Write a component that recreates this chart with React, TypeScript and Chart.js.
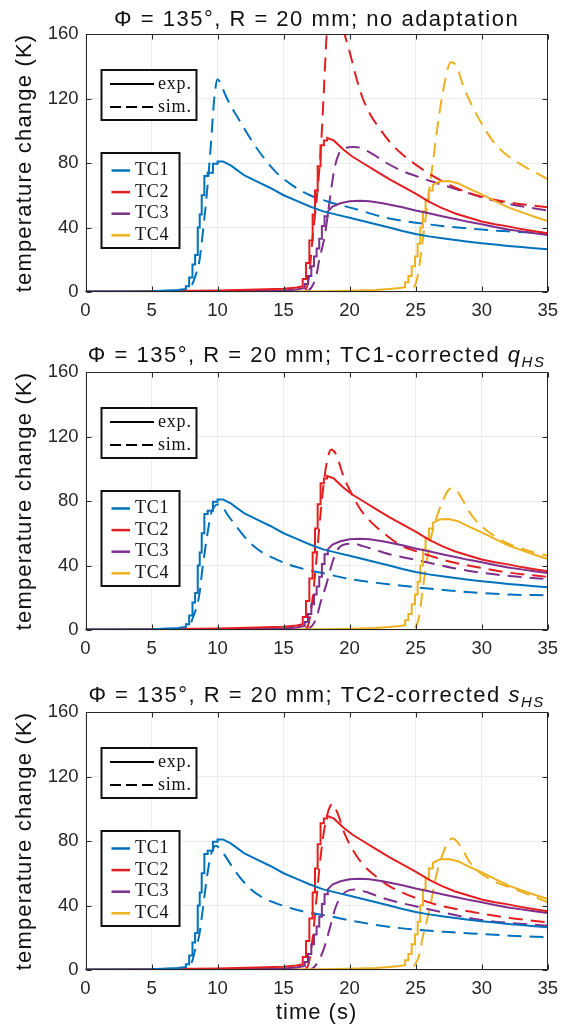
import React, { useEffect, useRef } from "react";
import { Chart, registerables } from "chart.js";

Chart.register(...registerables);

type Pt = [number, number];

// ---------- labels ----------
const X_TICKS = [0, 5, 10, 15, 20, 25, 30, 35];
const Y_TICKS = [0, 40, 80, 120, 160];
const TC_NAMES = ["TC1", "TC2", "TC3", "TC4"];
const STYLE_NAMES = ["exp.", "sim."];
const COLORS = ["#0072BD", "#E41E20", "#7E2F8E", "#EDB120"];
const TITLE_MAIN = "Φ = 135°, R = 20 mm; ";
const TITLE_SUFFIX = ["no adaptation", "TC1-corrected ", "TC2-corrected "];
const TITLE_SYMBOL = ["", "q", "s"];
const TITLE_SUB = ["", "HS", "HS"];
const Y_LABEL = "temperature change (K)";
const X_LABEL = "time (s)";

// ---------- experimental curves (time s, ΔT K) ----------
const EXP_TC1: Pt[] = [
  [0, 0.3], [5, 0.5], [7, 1.2], [7.6, 1.8], [7.6, 3.5], [7.85, 3.5], [7.85, 9], [8.1, 9], [8.1, 17],
  [8.3, 17], [8.3, 23], [8.5, 23], [8.5, 40], [8.65, 40], [8.65, 48], [8.8, 48], [8.8, 60], [9.0, 60],
  [9.0, 72], [9.25, 72], [9.25, 74], [9.65, 74], [9.65, 79.5], [10.0, 79.5], [10.0, 81], [10.4, 81],
  [11, 78.5], [12, 72.5], [13, 68.5], [14, 64.5], [15, 60], [16, 56.5], [17, 53], [18, 50], [19, 48],
  [20, 46], [21, 44], [22, 42], [23, 40], [24, 37.8], [25, 36], [26, 34.5], [27, 33.3], [28, 32.2],
  [29, 31.2], [30, 30.3], [31, 29.4], [32, 28.6], [33, 27.9], [34, 27.2], [35, 26.5],
];
const EXP_TC2: Pt[] = [
  [0, 0.3], [5, 0.5], [10, 1], [13, 1.5], [15, 2], [16, 2.8], [16.45, 3.5], [16.45, 8], [16.7, 8],
  [16.7, 18], [16.95, 18], [16.95, 32], [17.2, 32], [17.2, 48], [17.38, 48], [17.38, 63], [17.58, 63],
  [17.58, 78], [17.8, 78], [17.8, 91], [18.05, 91], [18.05, 94], [18.3, 94], [18.3, 95.5], [18.8, 94],
  [19.5, 88.5], [20.2, 84], [21, 80], [22, 75], [23, 70], [24, 65.5], [25, 61], [26, 56], [27, 52],
  [28, 48.7], [29, 46.2], [30, 43.7], [31, 42], [32, 40.7], [33, 39], [34, 37.7], [35, 36.5],
];
const EXP_TC3: Pt[] = [
  [0, 0.2], [10, 0.5], [15, 1], [16, 1.5], [16.6, 2.5], [16.6, 5], [16.85, 5], [16.85, 10], [17.1, 10],
  [17.1, 16], [17.3, 16], [17.3, 22], [17.5, 22], [17.5, 27], [17.7, 27], [17.7, 33], [17.9, 33],
  [17.9, 41], [18.1, 41], [18.1, 47], [18.35, 47], [18.35, 50], [18.7, 53], [19.3, 55], [20, 56.3],
  [20.8, 56.6], [21.5, 56.3], [22.5, 55], [24, 52.5], [25, 50.5], [26, 48.8], [27, 47], [28, 45.3],
  [29, 43.5], [30, 42], [31, 40.3], [32, 38.8], [33, 37.6], [34, 36.4], [35, 35.3],
];
const EXP_TC4: Pt[] = [
  [0, 0.2], [10, 0.3], [18, 0.5], [20, 0.8], [22, 1.2], [23, 1.8], [23.8, 2.5], [24.2, 3], [24.2, 6],
  [24.45, 6], [24.45, 10], [24.7, 10], [24.7, 16], [24.95, 16], [24.95, 22], [25.15, 22], [25.15, 30],
  [25.35, 30], [25.35, 40], [25.55, 40], [25.55, 50], [25.75, 50], [25.75, 57], [26.0, 57], [26.0, 63],
  [26.3, 63], [26.3, 66.5], [26.8, 68.5], [27.5, 68.8], [28.2, 67.5], [29, 64.3], [30, 60.5],
  [31, 56.5], [32, 52.5], [33, 49.5], [34, 46.7], [35, 44],
];

// ---------- simulated curves, panel 1: no adaptation ----------
const SIM1_TC1: Pt[] = [
  [0, 0], [7.5, 0], [7.8, 1], [8.1, 5], [8.4, 12], [8.6, 18], [8.9, 38], [9.2, 62], [9.5, 92],
  [9.75, 120], [10.0, 132], [10.3, 128], [10.6, 122], [11.0, 115.5], [11.5, 108.5], [11.9, 103],
  [12.5, 95], [13.2, 86.5], [14.4, 74.5], [15.7, 66], [17, 60], [18.4, 56], [20.2, 52], [22.8, 46],
  [25, 43], [27.5, 40.5], [30, 38.7], [32, 37.6], [35, 36.5],
];
const SIM1_TC2: Pt[] = [
  [0, 0], [16, 0], [16.6, 1], [16.9, 8], [17.2, 34], [17.58, 64], [17.83, 90], [18.08, 130],
  [18.25, 158], [18.6, 176], [19.0, 172], [19.6, 160], [20.0, 149], [20.5, 133], [21.0, 120],
  [21.5, 111], [22.3, 101], [23.1, 92.5], [23.9, 86], [25, 79], [26.1, 73], [27.8, 65.5], [29, 61.5],
  [30.8, 57.5], [32.1, 55.5], [35, 52.5],
];
const SIM1_TC3: Pt[] = [
  [0, 0], [16.5, 0], [16.9, 1], [17.2, 4], [17.5, 11], [17.7, 20], [18.1, 34], [18.46, 55],
  [18.84, 76], [19.2, 86], [19.6, 89], [20.3, 90], [20.8, 89.5], [21.75, 85.5], [22.8, 80], [24, 75],
  [25, 72], [26.1, 68.8], [27.8, 64.5], [29.1, 61], [30.1, 58.5], [32.1, 54.5], [35, 50.5],
];
const SIM1_TC4: Pt[] = [
  [0, 0], [24, 0], [24.6, 1], [25.0, 5], [25.2, 12], [25.5, 30], [25.8, 49], [26.3, 80], [26.8, 111],
  [27.3, 134], [27.65, 142.5], [28.1, 140], [28.6, 128], [29.3, 115], [30.1, 103], [30.9, 93],
  [31.6, 87], [32.4, 82], [33.3, 77.5], [34.2, 73.5], [35, 70],
];

// ---------- simulated curves, panel 2: TC1-corrected q_HS ----------
const SIM2_TC1: Pt[] = [
  [0, 0], [7.5, 0], [7.8, 1], [8.1, 7], [8.6, 21], [8.87, 39], [9.24, 60], [9.5, 72], [9.8, 77],
  [10.1, 78], [10.4, 76], [10.76, 71.5], [11.4, 64.5], [12.4, 54.5], [13.4, 48], [14.4, 44],
  [15.4, 40.5], [16.7, 37.5], [17.95, 35.3], [20.2, 31.3], [22.8, 28.5], [25, 26.5], [27.5, 24.5],
  [30, 23], [32.1, 22], [35, 21.5],
];
const SIM2_TC2: Pt[] = [
  [0, 0], [16.3, 0], [16.6, 0.5], [16.9, 4], [17.2, 20], [17.5, 45], [17.8, 72], [18.1, 95],
  [18.35, 107], [18.6, 112], [18.9, 110], [19.2, 104], [19.5, 96], [20, 87], [20.8, 75], [21.5, 68],
  [22.9, 58], [24, 52], [25, 49], [26.1, 46], [27.8, 42], [30, 38.5], [32.1, 35.5], [35, 33],
];
const SIM2_TC3: Pt[] = [
  [0, 0], [16.5, 0], [16.8, 0.5], [17.2, 3], [17.5, 8], [17.8, 17], [18.3, 30], [18.7, 42], [19.1, 50],
  [19.6, 53], [20.3, 53.5], [21, 52], [21.8, 50], [23, 47], [25, 43.5], [27.8, 38.5], [30, 35.5],
  [32.1, 33.5], [35, 31.5],
];
const SIM2_TC4: Pt[] = [
  [0, 0], [24.5, 0], [25, 2], [25.3, 10], [25.5, 23], [25.8, 40], [26.1, 55], [26.6, 70], [27.1, 81],
  [27.5, 87], [27.8, 88], [28.1, 86.5], [28.6, 80], [29, 74], [29.5, 68.5], [30.1, 63.5], [31, 58],
  [32, 53.5], [33, 50.5], [34, 48], [35, 46],
];

// ---------- simulated curves, panel 3: TC2-corrected s_HS ----------
const SIM3_TC1: Pt[] = [
  [0, 0], [7.5, 0], [7.8, 1], [8.1, 6], [8.36, 14.5], [8.6, 21], [8.87, 37], [9.24, 60], [9.5, 71.5],
  [9.88, 77], [10.2, 75], [10.6, 70.5], [11.4, 60.5], [12.4, 51], [13.4, 45], [14.4, 41.5],
  [15.9, 37.5], [16.9, 35.5], [18.4, 33.5], [20.2, 30.5], [22.8, 27], [25, 25], [27.5, 23.5],
  [30, 22.3], [32.1, 21.3], [35, 20.3],
];
const SIM3_TC2: Pt[] = [
  [0, 0], [16.3, 0], [16.6, 0.5], [16.9, 4], [17.2, 20], [17.5, 45], [17.8, 70], [18.1, 88],
  [18.4, 99], [18.7, 103], [19.1, 97], [19.6, 85], [20.2, 75], [21, 65.5], [22, 58], [23, 52], [24, 48],
  [25, 44.7], [26.6, 40.5], [28.3, 37.4], [30, 35], [32.1, 32.3], [35, 29.5],
];
const SIM3_TC3: Pt[] = [
  [0, 0], [16.8, 0], [17.2, 1], [17.6, 5], [18.0, 12], [18.3, 20], [18.6, 29], [18.9, 38], [19.3, 45],
  [19.8, 49], [20.4, 50], [21.2, 48.5], [22.76, 44], [25, 39.5], [27.3, 35.3], [29.6, 31.5],
  [32.1, 29.2], [35, 27.5],
];
const SIM3_TC4: Pt[] = [
  [0, 0], [24.5, 0], [25, 4], [25.3, 10], [25.5, 19], [25.8, 29], [26.1, 39.5], [26.6, 60], [27.1, 73],
  [27.5, 80], [27.8, 81.5], [28.2, 79], [28.6, 74], [29, 68], [29.5, 63], [30.3, 58], [31.2, 54],
  [32.2, 51], [33.5, 47], [35, 42],
];

const EXP_SERIES: Pt[][] = [EXP_TC1, EXP_TC2, EXP_TC3, EXP_TC4];
const SIM_SERIES: Pt[][][] = [
  [SIM1_TC1, SIM1_TC2, SIM1_TC3, SIM1_TC4],
  [SIM2_TC1, SIM2_TC2, SIM2_TC3, SIM2_TC4],
  [SIM3_TC1, SIM3_TC2, SIM3_TC3, SIM3_TC4],
];

// ---------- layout ----------
const W = 566;
const PANEL_TOPS = [0, 338, 678];
const PANEL_HEIGHTS = [330, 330, 348];
const PLOT_LEFT = 85.5;
const PLOT_RIGHT = 548.5;
const PLOT_TOP = 34;
const PLOT_BOTTOM = 292;
const SANS = "'Liberation Sans', Arial, Helvetica, sans-serif";
const SERIF = "'Liberation Serif', 'Times New Roman', serif";
const AXIS_COLOR = "#262626";

function seg(ctx: CanvasRenderingContext2D, x1: number, y1: number, x2: number, y2: number) {
  ctx.beginPath();
  ctx.moveTo(x1, y1);
  ctx.lineTo(x2, y2);
  ctx.stroke();
}

function makeOverlay(panel: number) {
  return {
    id: "overlay" + panel,
    afterDraw(chart: any) {
      const ctx: CanvasRenderingContext2D = chart.ctx;
      const a = chart.chartArea;
      const xs = chart.scales.x;
      const ys = chart.scales.y;
      ctx.save();
      // axes box
      const L = Math.round(a.left) + 0.5;
      const R = Math.round(a.right) - 0.5;
      const T = Math.round(a.top) + 0.5;
      const B = Math.round(a.bottom) - 0.5;
      ctx.strokeStyle = AXIS_COLOR;
      ctx.lineWidth = 1;
      ctx.setLineDash([]);
      ctx.strokeRect(L, T, R - L, B - T);
      // inward ticks
      X_TICKS.forEach((v) => {
        const px = Math.round(xs.getPixelForValue(v)) + 0.5;
        seg(ctx, px, B, px, B - 5);
        seg(ctx, px, T, px, T + 5);
      });
      Y_TICKS.forEach((v) => {
        const py = Math.round(ys.getPixelForValue(v)) + 0.5;
        seg(ctx, L, py, L + 5, py);
        seg(ctx, R, py, R - 5, py);
      });

      // legend 1: line styles
      const b1x = a.left + 16, b1y = a.top + 36, b1w = 95, b1h = 50;
      ctx.fillStyle = "#fff";
      ctx.fillRect(b1x, b1y, b1w, b1h);
      ctx.strokeStyle = "#111";
      ctx.lineWidth = 2;
      ctx.strokeRect(b1x, b1y, b1w, b1h);
      ctx.font = `18px ${SERIF}`;
      ctx.textBaseline = "middle";
      ctx.textAlign = "left";
      STYLE_NAMES.forEach((name, i) => {
        const y = a.top + 50 + i * 23;
        ctx.strokeStyle = "#000";
        ctx.lineWidth = 2;
        ctx.setLineDash(i === 0 ? [] : [11, 5]);
        seg(ctx, a.left + 24.5, y, a.left + 68.5, y);
        ctx.setLineDash([]);
        ctx.fillStyle = "#111";
        (ctx as any).letterSpacing = "0.8px";
        ctx.fillText(name, a.left + 72.5, y);
        (ctx as any).letterSpacing = "0px";
      });

      // legend 2: thermocouples
      const b2x = a.left + 16, b2y = a.top + 119, b2w = 78, b2h = 95;
      ctx.fillStyle = "#fff";
      ctx.fillRect(b2x, b2y, b2w, b2h);
      ctx.strokeStyle = "#111";
      ctx.lineWidth = 2;
      ctx.strokeRect(b2x, b2y, b2w, b2h);
      TC_NAMES.forEach((name, i) => {
        const y = a.top + 136.5 + i * 21.6;
        ctx.strokeStyle = COLORS[i];
        ctx.lineWidth = 2.5;
        seg(ctx, a.left + 26, y, a.left + 44.5, y);
        ctx.fillStyle = "#111";
        (ctx as any).letterSpacing = "0.8px";
        ctx.fillText(name, a.left + 49.5, y);
        (ctx as any).letterSpacing = "0px";
      });

      // title (with optional italic symbol and subscript)
      const parts: { text: string; font: string; dy: number }[] = [
        { text: TITLE_MAIN + TITLE_SUFFIX[panel], font: `22px ${SANS}`, dy: 0 },
      ];
      if (TITLE_SYMBOL[panel]) {
        parts.push({ text: TITLE_SYMBOL[panel], font: `italic 22px ${SANS}`, dy: 0 });
        parts.push({ text: TITLE_SUB[panel], font: `italic 15px ${SANS}`, dy: 5 });
      }
      (ctx as any).letterSpacing = "1.5px";
      ctx.textBaseline = "alphabetic";
      ctx.textAlign = "left";
      let total = 0;
      const widths = parts.map((p) => {
        ctx.font = p.font;
        const w = ctx.measureText(p.text).width;
        total += w;
        return w;
      });
      const baseline = a.top - (panel === 0 ? 8 : 10);
      let x = (a.left + a.right) / 2 - total / 2;
      ctx.fillStyle = "#111";
      parts.forEach((p, i) => {
        ctx.font = p.font;
        ctx.fillText(p.text, x, baseline + p.dy);
        x += widths[i];
      });

      // y-axis title
      ctx.save();
      ctx.translate(25, (a.top + a.bottom) / 2);
      ctx.rotate(-Math.PI / 2);
      ctx.font = `22px ${SANS}`;
      (ctx as any).letterSpacing = "1.2px";
      ctx.textAlign = "center";
      ctx.textBaseline = "middle";
      ctx.fillText(Y_LABEL, 0, 0);
      ctx.restore();

      // x-axis title on the last panel
      if (panel === 2) {
        ctx.font = `22px ${SANS}`;
        (ctx as any).letterSpacing = "1px";
        ctx.textAlign = "center";
        ctx.textBaseline = "middle";
        ctx.fillText(X_LABEL, (a.left + a.right) / 2, a.bottom + 43);
      }
      (ctx as any).letterSpacing = "0px";
      ctx.restore();
    },
  };
}

function buildConfig(panel: number): any {
  const h = PANEL_HEIGHTS[panel];
  const datasets: any[] = [];
  EXP_SERIES.forEach((s, i) => {
    datasets.push({
      label: TC_NAMES[i] + " " + STYLE_NAMES[0],
      data: s.map(([x, y]) => ({ x, y })),
      borderColor: COLORS[i],
      borderWidth: 2,
      tension: 0,
      pointRadius: 0,
      fill: false,
    });
  });
  SIM_SERIES[panel].forEach((s, i) => {
    datasets.push({
      label: TC_NAMES[i] + " " + STYLE_NAMES[1],
      data: s.map(([x, y]) => ({ x, y })),
      borderColor: COLORS[i],
      borderWidth: 2,
      borderDash: [14, 8],
      cubicInterpolationMode: "monotone",
      pointRadius: 0,
      fill: false,
    });
  });
  const tickFont = { family: SANS, size: 18.5 };
  return {
    type: "line",
    data: { datasets },
    options: {
      responsive: false,
      maintainAspectRatio: false,
      animation: false,
      devicePixelRatio: 1,
      layout: { padding: { top: PLOT_TOP, right: W - PLOT_RIGHT, left: 0, bottom: 0 } },
      plugins: { legend: { display: false }, tooltip: { enabled: false }, title: { display: false } },
      elements: { point: { radius: 0 } },
      scales: {
        x: {
          type: "linear",
          min: 0,
          max: 35,
          afterBuildTicks: (s: any) => {
            s.ticks = X_TICKS.map((v) => ({ value: v }));
          },
          afterFit: (s: any) => {
            s.height = h - PLOT_BOTTOM;
          },
          grid: { color: "#ececec", drawTicks: false, lineWidth: 1 },
          border: { display: false },
          ticks: { font: tickFont, color: AXIS_COLOR, padding: 8, maxRotation: 0, autoSkip: false },
        },
        y: {
          type: "linear",
          min: 0,
          max: 160,
          afterBuildTicks: (s: any) => {
            s.ticks = Y_TICKS.map((v) => ({ value: v }));
          },
          afterFit: (s: any) => {
            s.width = PLOT_LEFT;
          },
          grid: { color: "#ececec", drawTicks: false, lineWidth: 1 },
          border: { display: false },
          ticks: { font: tickFont, color: AXIS_COLOR, padding: 7, autoSkip: false },
        },
      },
    },
    plugins: [makeOverlay(panel)],
  };
}

function Panel({ index }: { index: number }) {
  const ref = useRef<HTMLCanvasElement>(null);
  useEffect(() => {
    if (!ref.current) return;
    const chart = new Chart(ref.current, buildConfig(index));
    return () => chart.destroy();
  }, [index]);
  return (
    <canvas
      ref={ref}
      width={W}
      height={PANEL_HEIGHTS[index]}
      style={{
        position: "absolute",
        left: 0,
        top: PANEL_TOPS[index],
        width: W,
        height: PANEL_HEIGHTS[index],
        display: "block",
      }}
    />
  );
}

export default function App() {
  return (
    <div
      style={{
        position: "absolute",
        left: 0,
        top: 0,
        width: W,
        height: 1026,
        background: "#fff",
        overflow: "hidden",
      }}
    >
      {[0, 1, 2].map((i) => (
        <Panel key={i} index={i} />
      ))}
    </div>
  );
}
